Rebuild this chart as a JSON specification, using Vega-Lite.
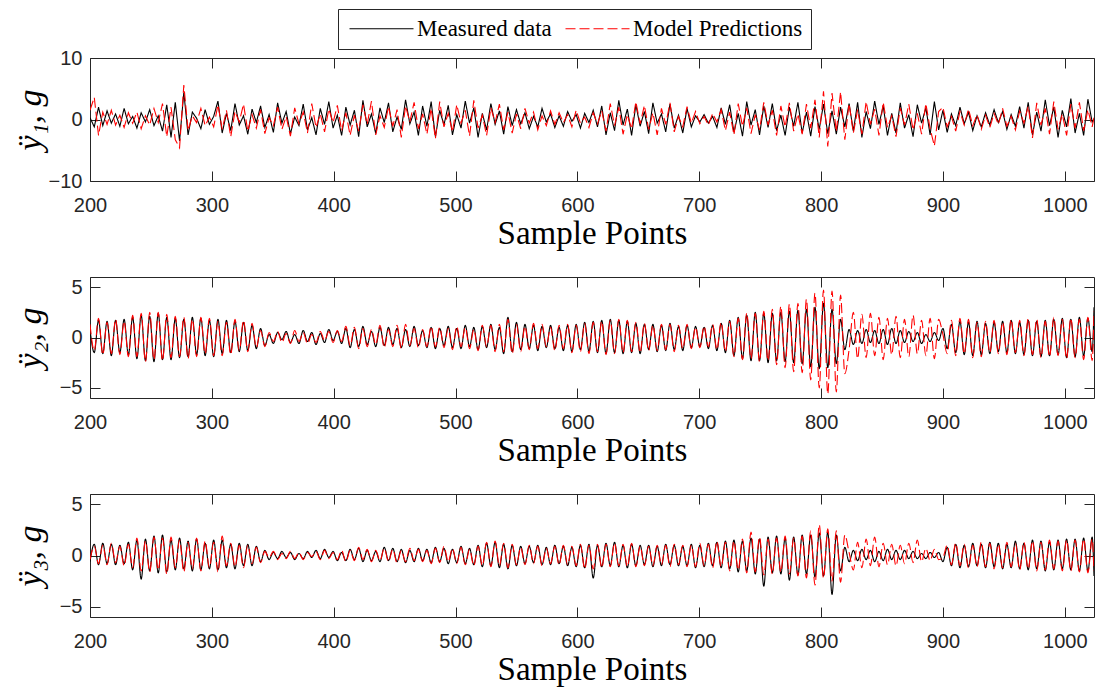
{
"$schema": "https://vega.github.io/schema/vega-lite/v6.json",
"autosize": {"type": "none"},
"padding": {"left": 90, "top": 58, "right": 1005, "bottom": 629},
"background": "#ffffff",
"data": {"values": [
{"x":200,"a":0.3,"b":1.5,"c":0.8,"d":1.3,"e":-0.6,"f":-0.4},
{"x":203.5,"a":-1.2,"b":3.6,"c":-1.5,"d":-1.3,"e":1.1,"f":0.9},
{"x":207,"a":2.0,"b":-2.6,"c":1.7,"d":1.9,"e":-0.9,"f":-0.8},
{"x":210.5,"a":-1.0,"b":1.2,"c":-1.6,"d":-1.7,"e":1.2,"f":1.0},
{"x":214,"a":1.4,"b":-0.8,"c":1.6,"d":1.5,"e":-0.8,"f":-0.9},
{"x":217.5,"a":-0.6,"b":1.5,"c":-1.8,"d":-1.6,"e":1.1,"f":1.2},
{"x":221,"a":0.9,"b":-0.9,"c":1.7,"d":1.8,"e":-0.9,"f":-0.7},
{"x":224.5,"a":-1.1,"b":0.7,"c":-1.5,"d":-1.7,"e":1.0,"f":0.9},
{"x":228,"a":1.8,"b":-1.3,"c":1.8,"d":1.6,"e":-0.8,"f":-1.0},
{"x":231.5,"a":-0.7,"b":1.1,"c":-1.7,"d":-1.9,"e":1.3,"f":1.1},
{"x":235,"a":0.5,"b":-0.6,"c":2.0,"d":2.2,"e":-1.4,"f":-1.2},
{"x":238.5,"a":-1.4,"b":1.2,"c":-2.1,"d":-1.9,"e":1.5,"f":1.7},
{"x":242,"a":1.1,"b":-1.5,"c":2.2,"d":2.4,"e":-2.3,"f":-1.5},
{"x":245.5,"a":-0.4,"b":0.6,"c":-2.3,"d":-2.4,"e":1.6,"f":1.4},
{"x":249,"a":1.6,"b":-0.9,"c":2.1,"d":2.5,"e":-1.5,"f":-1.6},
{"x":252.5,"a":-1.0,"b":1.8,"c":-2.4,"d":-2.2,"e":1.9,"f":1.8},
{"x":256,"a":0.6,"b":-0.5,"c":2.4,"d":2.5,"e":-1.7,"f":-1.4},
{"x":259.5,"a":-1.9,"b":2.6,"c":-2.2,"d":-2.3,"e":2.0,"f":1.7},
{"x":263,"a":2.4,"b":-2.8,"c":2.0,"d":2.3,"e":-1.6,"f":-1.8},
{"x":266.5,"a":-2.9,"b":2.0,"c":-2.2,"d":-2.0,"e":1.5,"f":1.8},
{"x":270,"a":2.8,"b":-3.3,"c":1.9,"d":2.1,"e":-1.4,"f":-1.2},
{"x":273.5,"a":-3.5,"b":-4.6,"c":-2.0,"d":-1.9,"e":1.7,"f":1.5},
{"x":277,"a":4.4,"b":5.6,"c":1.8,"d":2.0,"e":-1.3,"f":-1.6},
{"x":280.5,"a":-2.5,"b":-1.8,"c":-1.9,"d":-2.1,"e":1.4,"f":1.3},
{"x":284,"a":1.2,"b":0.6,"c":2.0,"d":1.8,"e":-1.5,"f":-1.3},
{"x":287.5,"a":0.2,"b":-0.5,"c":-1.7,"d":-1.9,"e":1.6,"f":1.7},
{"x":291,"a":-1.5,"b":1.8,"c":1.9,"d":2.0,"e":-1.4,"f":-1.5},
{"x":294.5,"a":1.6,"b":-1.0,"c":-1.8,"d":-1.6,"e":1.2,"f":1.4},
{"x":298,"a":-0.8,"b":0.4,"c":1.7,"d":1.9,"e":-1.3,"f":-1.2},
{"x":301.5,"a":0.5,"b":-1.2,"c":-1.9,"d":-1.8,"e":1.5,"f":1.3},
{"x":305,"a":3.0,"b":2.4,"c":1.8,"d":1.6,"e":-1.4,"f":-1.6},
{"x":308.5,"a":-2.2,"b":-1.6,"c":-1.6,"d":-1.8,"e":1.5,"f":1.9},
{"x":312,"a":1.0,"b":1.5,"c":1.7,"d":1.5,"e":-1.2,"f":-1.0},
{"x":315.5,"a":-1.8,"b":-2.8,"c":-1.5,"d":-1.7,"e":1.1,"f":1.2},
{"x":319,"a":2.6,"b":1.3,"c":1.6,"d":1.8,"e":-1.3,"f":-1.1},
{"x":322.5,"a":-0.9,"b":-0.4,"c":-1.4,"d":-1.3,"e":1.2,"f":1.0},
{"x":326,"a":0.6,"b":2.5,"c":1.5,"d":1.7,"e":-1.0,"f":-1.2},
{"x":329.5,"a":-2.4,"b":-1.9,"c":-1.3,"d":-1.4,"e":1.1,"f":1.0},
{"x":333,"a":1.7,"b":0.8,"c":1.2,"d":1.4,"e":-1.0,"f":-0.8},
{"x":336.5,"a":-0.5,"b":-1.4,"c":-1.1,"d":-1.0,"e":0.9,"f":0.8},
{"x":340,"a":2.2,"b":1.6,"c":0.9,"d":0.7,"e":-0.6,"f":-0.7},
{"x":343.5,"a":-1.3,"b":-2.3,"c":-0.8,"d":-0.9,"e":0.5,"f":0.4},
{"x":347,"a":0.8,"b":0.3,"c":0.3,"d":0.5,"e":-0.4,"f":-0.2},
{"x":350.5,"a":-2.1,"b":-1.0,"c":-0.6,"d":-0.4,"e":0.3,"f":0.4},
{"x":354,"a":2.7,"b":2.0,"c":0.5,"d":0.6,"e":-0.3,"f":-0.4},
{"x":357.5,"a":-0.6,"b":-1.6,"c":-0.2,"d":-0.5,"e":0.4,"f":0.2},
{"x":361,"a":1.3,"b":0.5,"c":0.6,"d":0.4,"e":-0.2,"f":-0.3},
{"x":364.5,"a":-2.3,"b":-2.7,"c":-0.5,"d":-0.6,"e":0.3,"f":0.4},
{"x":368,"a":0.4,"b":1.9,"c":0.3,"d":0.7,"e":-0.4,"f":-0.3},
{"x":371.5,"a":-1.0,"b":-0.7,"c":-0.6,"d":-0.4,"e":0.2,"f":0.3},
{"x":375,"a":2.5,"b":1.2,"c":0.7,"d":0.5,"e":-0.3,"f":-0.4},
{"x":378.5,"a":-1.7,"b":-2.2,"c":-0.4,"d":-0.6,"e":0.4,"f":0.3},
{"x":382,"a":0.3,"b":2.6,"c":0.5,"d":0.3,"e":-0.2,"f":-0.1},
{"x":385.5,"a":-2.5,"b":-1.3,"c":-0.7,"d":-0.5,"e":0.5,"f":0.4},
{"x":389,"a":1.8,"b":0.9,"c":0.4,"d":0.6,"e":-0.3,"f":-0.4},
{"x":392.5,"a":-0.8,"b":-2.0,"c":-0.5,"d":-0.3,"e":0.6,"f":0.5},
{"x":396,"a":2.9,"b":1.7,"c":0.8,"d":0.6,"e":-0.2,"f":-0.3},
{"x":399.5,"a":-1.4,"b":-0.5,"c":-0.3,"d":-0.5,"e":0.4,"f":0.3},
{"x":403,"a":0.7,"b":2.3,"c":0.6,"d":0.7,"e":-0.5,"f":-0.4},
{"x":406.5,"a":-2.6,"b":-1.8,"c":-0.6,"d":-0.4,"e":0.3,"f":0.5},
{"x":410,"a":2.0,"b":1.1,"c":0.9,"d":1.1,"e":-0.5,"f":-0.6},
{"x":413.5,"a":-0.9,"b":-2.6,"c":-1.0,"d":-0.8,"e":0.6,"f":0.5},
{"x":417,"a":1.5,"b":0.7,"c":0.8,"d":1.0,"e":-0.4,"f":-0.5},
{"x":420.5,"a":-2.8,"b":-1.9,"c":-0.9,"d":-1.1,"e":0.7,"f":0.8},
{"x":424,"a":3.1,"b":2.4,"c":1.1,"d":0.9,"e":-0.6,"f":-0.4},
{"x":427.5,"a":-1.2,"b":-0.8,"c":-0.7,"d":-0.9,"e":0.5,"f":0.6},
{"x":431,"a":0.9,"b":3.0,"c":0.6,"d":0.8,"e":-0.5,"f":-0.6},
{"x":434.5,"a":-2.3,"b":-2.5,"c":-0.9,"d":-0.7,"e":0.4,"f":0.5},
{"x":438,"a":1.9,"b":0.6,"c":1.0,"d":1.2,"e":-0.6,"f":-0.5},
{"x":441.5,"a":-0.5,"b":-1.3,"c":-0.8,"d":-1.0,"e":0.8,"f":0.7},
{"x":445,"a":2.7,"b":2.1,"c":1.0,"d":0.8,"e":-0.5,"f":-0.6},
{"x":448.5,"a":-2.0,"b":-1.1,"c":-0.7,"d":-0.9,"e":0.7,"f":0.6},
{"x":452,"a":0.4,"b":1.6,"c":0.9,"d":1.2,"e":-0.6,"f":-0.7},
{"x":455.5,"a":-1.6,"b":-2.9,"c":-1.0,"d":-1.1,"e":0.6,"f":0.5},
{"x":459,"a":3.2,"b":2.2,"c":0.8,"d":1.3,"e":-0.7,"f":-0.6},
{"x":462.5,"a":-0.7,"b":-0.4,"c":-0.9,"d":-0.8,"e":0.5,"f":0.7},
{"x":466,"a":1.2,"b":2.8,"c":1.1,"d":0.9,"e":-0.6,"f":-0.5},
{"x":469.5,"a":-2.6,"b":-1.5,"c":-0.8,"d":-1.0,"e":0.7,"f":0.6},
{"x":473,"a":2.2,"b":0.9,"c":0.7,"d":0.8,"e":-0.5,"f":-0.6},
{"x":476.5,"a":-1.1,"b":-2.4,"c":-1.0,"d":-0.9,"e":0.6,"f":0.5},
{"x":480,"a":2.9,"b":1.8,"c":1.0,"d":1.1,"e":-0.7,"f":-0.8},
{"x":483.5,"a":-2.8,"b":-3.1,"c":-1.1,"d":-0.9,"e":0.8,"f":0.7},
{"x":487,"a":1.5,"b":2.9,"c":0.9,"d":1.0,"e":-0.6,"f":-0.7},
{"x":490.5,"a":-0.9,"b":-1.2,"c":-0.8,"d":-1.0,"e":0.7,"f":0.9},
{"x":494,"a":2.3,"b":1.0,"c":1.1,"d":0.9,"e":-0.8,"f":-0.6},
{"x":497.5,"a":-2.5,"b":-2.0,"c":-1.0,"d":-1.2,"e":0.6,"f":0.7},
{"x":501,"a":0.8,"b":2.4,"c":0.9,"d":1.1,"e":-0.7,"f":-0.8},
{"x":504.5,"a":-1.4,"b":-0.6,"c":-1.1,"d":-0.9,"e":0.9,"f":0.8},
{"x":508,"a":3.0,"b":1.5,"c":1.2,"d":1.0,"e":-0.8,"f":-0.9},
{"x":511.5,"a":-0.6,"b":-2.7,"c":-0.9,"d":-1.1,"e":0.7,"f":0.6},
{"x":515,"a":1.9,"b":3.1,"c":1.0,"d":0.8,"e":-0.9,"f":-1.0},
{"x":518.5,"a":-2.9,"b":-1.4,"c":-1.2,"d":-1.3,"e":1.0,"f":0.9},
{"x":522,"a":1.0,"b":0.7,"c":1.1,"d":1.2,"e":-1.1,"f":-1.0},
{"x":525.5,"a":-1.7,"b":-2.6,"c":-1.0,"d":-0.9,"e":1.2,"f":1.3},
{"x":529,"a":2.6,"b":1.9,"c":1.3,"d":1.2,"e":-1.0,"f":-1.1},
{"x":532.5,"a":-0.8,"b":-0.5,"c":-1.2,"d":-1.4,"e":1.3,"f":1.4},
{"x":536,"a":1.4,"b":2.5,"c":1.0,"d":1.3,"e":-1.2,"f":-1.0},
{"x":539.5,"a":-2.4,"b":-1.7,"c":-1.6,"d":-1.4,"e":1.1,"f":1.2},
{"x":543,"a":2.1,"b":1.2,"c":2.0,"d":1.8,"e":-1.3,"f":-1.2},
{"x":546.5,"a":-1.0,"b":-2.2,"c":-1.4,"d":-1.6,"e":1.0,"f":1.1},
{"x":550,"a":1.6,"b":0.9,"c":1.5,"d":1.3,"e":-1.0,"f":-0.9},
{"x":553.5,"a":-0.7,"b":-1.5,"c":-1.2,"d":-1.4,"e":0.9,"f":0.8},
{"x":557,"a":1.1,"b":1.8,"c":1.3,"d":1.1,"e":-0.8,"f":-0.9},
{"x":560.5,"a":-1.5,"b":-0.6,"c":-1.1,"d":-1.2,"e":0.9,"f":1.0},
{"x":564,"a":0.5,"b":1.2,"c":1.2,"d":1.4,"e":-0.7,"f":-0.8},
{"x":567.5,"a":-1.2,"b":-1.7,"c":-1.3,"d":-1.1,"e":1.0,"f":0.9},
{"x":571,"a":1.8,"b":0.6,"c":1.1,"d":1.3,"e":-0.9,"f":-1.0},
{"x":574.5,"a":-0.4,"b":-1.0,"c":-1.0,"d":-0.9,"e":0.8,"f":0.7},
{"x":578,"a":0.9,"b":1.4,"c":1.2,"d":1.0,"e":-0.9,"f":-0.8},
{"x":581.5,"a":-1.3,"b":-0.8,"c":-1.1,"d":-1.3,"e":1.0,"f":0.9},
{"x":585,"a":0.6,"b":1.1,"c":1.0,"d":1.2,"e":-0.8,"f":-0.9},
{"x":588.5,"a":-1.1,"b":-0.5,"c":-1.3,"d":-1.1,"e":0.9,"f":1.0},
{"x":592,"a":1.3,"b":0.8,"c":1.2,"d":1.3,"e":-1.0,"f":-0.9},
{"x":595.5,"a":-0.3,"b":-1.2,"c":-1.4,"d":-1.5,"e":0.8,"f":0.9},
{"x":599,"a":0.8,"b":1.5,"c":1.3,"d":1.2,"e":-1.1,"f":-1.0},
{"x":602.5,"a":-1.4,"b":-0.6,"c":-1.2,"d":-1.4,"e":1.0,"f":1.1},
{"x":606,"a":1.0,"b":0.4,"c":1.5,"d":1.4,"e":-1.2,"f":-1.3},
{"x":609.5,"a":-0.5,"b":-1.3,"c":-1.4,"d":-1.6,"e":1.1,"f":1.0},
{"x":613,"a":1.5,"b":1.1,"c":1.6,"d":1.5,"e":-2.2,"f":-1.3},
{"x":616.5,"a":-1.2,"b":-0.7,"c":-1.5,"d":-1.4,"e":1.0,"f":1.1},
{"x":620,"a":2.2,"b":1.4,"c":1.7,"d":1.6,"e":-1.1,"f":-1.2},
{"x":623.5,"a":-2.5,"b":-1.9,"c":-1.6,"d":-1.7,"e":1.2,"f":1.1},
{"x":627,"a":1.1,"b":2.6,"c":1.8,"d":1.7,"e":-1.0,"f":-1.1},
{"x":630.5,"a":-1.8,"b":-1.0,"c":-1.5,"d":-1.6,"e":1.3,"f":1.2},
{"x":634,"a":3.1,"b":2.0,"c":1.7,"d":1.8,"e":-1.1,"f":-1.0},
{"x":637.5,"a":-0.9,"b":-2.4,"c":-1.6,"d":-1.5,"e":1.0,"f":1.1},
{"x":641,"a":1.7,"b":0.8,"c":1.6,"d":1.7,"e":-1.2,"f":-1.1},
{"x":644.5,"a":-2.6,"b":-1.5,"c":-1.5,"d":-1.4,"e":1.1,"f":1.2},
{"x":648,"a":2.4,"b":2.9,"c":1.4,"d":1.5,"e":-1.0,"f":-1.1},
{"x":651.5,"a":-1.1,"b":-0.7,"c":-1.6,"d":-1.5,"e":1.0,"f":0.9},
{"x":655,"a":1.3,"b":2.3,"c":1.3,"d":1.4,"e":-0.9,"f":-1.0},
{"x":658.5,"a":-2.3,"b":-1.6,"c":-1.2,"d":-1.3,"e":1.0,"f":0.9},
{"x":662,"a":2.7,"b":1.1,"c":1.3,"d":1.2,"e":-1.1,"f":-1.0},
{"x":665.5,"a":-0.6,"b":-2.5,"c":-1.4,"d":-1.3,"e":0.9,"f":1.0},
{"x":669,"a":0.9,"b":1.8,"c":1.2,"d":1.3,"e":-1.0,"f":-0.9},
{"x":672.5,"a":-2.0,"b":-0.8,"c":-1.3,"d":-1.2,"e":1.1,"f":1.0},
{"x":676,"a":2.5,"b":2.7,"c":1.4,"d":1.3,"e":-0.9,"f":-1.1},
{"x":679.5,"a":-1.4,"b":-2.0,"c":-1.2,"d":-1.4,"e":1.0,"f":1.1},
{"x":683,"a":0.7,"b":0.5,"c":1.1,"d":1.2,"e":-1.0,"f":-0.9},
{"x":686.5,"a":-2.2,"b":-1.2,"c":-1.3,"d":-1.1,"e":0.9,"f":1.0},
{"x":690,"a":1.8,"b":2.1,"c":1.2,"d":1.3,"e":-1.0,"f":-1.1},
{"x":693.5,"a":-1.2,"b":-0.6,"c":-1.0,"d":-1.1,"e":1.1,"f":1.0},
{"x":697,"a":0.6,"b":1.3,"c":1.1,"d":1.0,"e":-1.2,"f":-1.1},
{"x":700.5,"a":-0.4,"b":-0.7,"c":-0.9,"d":-1.0,"e":1.0,"f":1.2},
{"x":704,"a":0.8,"b":0.5,"c":1.0,"d":1.1,"e":-1.1,"f":-1.0},
{"x":707.5,"a":-0.6,"b":-0.9,"c":-1.1,"d":-0.9,"e":1.2,"f":1.1},
{"x":711,"a":0.5,"b":1.0,"c":1.2,"d":1.3,"e":-1.0,"f":-1.2},
{"x":714.5,"a":-1.3,"b":-0.4,"c":-1.3,"d":-1.2,"e":1.3,"f":1.4},
{"x":718,"a":1.9,"b":1.6,"c":1.4,"d":1.5,"e":-1.2,"f":-1.1},
{"x":721.5,"a":-0.8,"b":-1.8,"c":-1.5,"d":-1.4,"e":1.4,"f":1.3},
{"x":725,"a":2.4,"b":1.2,"c":1.7,"d":1.6,"e":-1.3,"f":-1.5},
{"x":728.5,"a":-2.1,"b":-2.5,"c":-1.8,"d":-1.9,"e":1.5,"f":1.4},
{"x":732,"a":1.0,"b":2.6,"c":2.0,"d":1.9,"e":-1.6,"f":-1.4},
{"x":735.5,"a":-2.7,"b":-1.1,"c":-2.1,"d":-2.2,"e":1.4,"f":1.6},
{"x":739,"a":2.9,"b":1.9,"c":2.2,"d":2.4,"e":-1.5,"f":-1.7},
{"x":742.5,"a":-0.9,"b":-2.3,"c":-2.3,"d":-2.1,"e":1.7,"f":2.3},
{"x":746,"a":1.6,"b":0.8,"c":2.5,"d":2.4,"e":-1.8,"f":-1.6},
{"x":749.5,"a":-2.5,"b":-1.7,"c":-2.3,"d":-2.4,"e":1.6,"f":1.8},
{"x":753,"a":2.2,"b":2.8,"c":2.4,"d":2.6,"e":-3.0,"f":-1.9},
{"x":756.5,"a":-1.3,"b":-0.9,"c":-2.5,"d":-2.3,"e":1.8,"f":1.6},
{"x":760,"a":2.6,"b":1.5,"c":2.4,"d":2.8,"e":-1.7,"f":-1.8},
{"x":763.5,"a":-1.8,"b":-2.6,"c":-2.3,"d":-2.7,"e":1.9,"f":1.7},
{"x":767,"a":0.7,"b":2.2,"c":2.5,"d":3.1,"e":-1.8,"f":-1.6},
{"x":770.5,"a":-2.6,"b":-1.2,"c":-2.4,"d":-3.0,"e":1.7,"f":1.9},
{"x":774,"a":2.0,"b":2.7,"c":2.6,"d":3.3,"e":-2.4,"f":-1.8},
{"x":777.5,"a":-1.1,"b":-1.9,"c":-2.5,"d":-3.4,"e":1.8,"f":1.7},
{"x":781,"a":2.8,"b":0.9,"c":2.7,"d":3.4,"e":-1.9,"f":-2.0},
{"x":784.5,"a":-2.2,"b":-2.4,"c":-2.6,"d":-3.5,"e":2.0,"f":1.9},
{"x":788,"a":1.2,"b":2.5,"c":2.8,"d":3.8,"e":-1.8,"f":-2.2},
{"x":791.5,"a":-2.7,"b":-1.4,"c":-2.9,"d":-4.2,"e":2.0,"f":2.4},
{"x":795,"a":2.1,"b":3.2,"c":3.0,"d":4.4,"e":-2.1,"f":-2.9},
{"x":798.5,"a":-1.6,"b":-2.9,"c":-3.1,"d":-5.0,"e":2.2,"f":3.0},
{"x":802,"a":2.5,"b":4.6,"c":3.4,"d":4.7,"e":-2.0,"f":-2.2},
{"x":805.5,"a":-2.3,"b":-4.4,"c":-3.0,"d":-5.6,"e":2.3,"f":2.6},
{"x":809,"a":1.4,"b":4.3,"c":2.8,"d":4.6,"e":-3.8,"f":-2.5},
{"x":812.5,"a":-2.4,"b":-2.0,"c":-2.6,"d":-5.4,"e":2.0,"f":2.4},
{"x":816,"a":2.0,"b":4.5,"c":1.8,"d":4.2,"e":-1.5,"f":-2.6},
{"x":819.5,"a":-1.2,"b":-3.3,"c":-1.2,"d":-3.6,"e":0.8,"f":2.0},
{"x":823,"a":2.6,"b":2.6,"c":0.8,"d":-1.2,"e":-0.6,"f":0.3},
{"x":826.5,"a":-1.9,"b":-2.2,"c":-0.7,"d":2.5,"e":0.5,"f":-1.4},
{"x":830,"a":2.8,"b":1.6,"c":0.7,"d":-2.1,"e":-0.5,"f":1.3},
{"x":833.5,"a":-2.9,"b":-2.4,"c":-0.6,"d":2.3,"e":0.6,"f":-1.2},
{"x":837,"a":1.3,"b":2.9,"c":0.8,"d":-2.0,"e":-0.4,"f":1.6},
{"x":840.5,"a":-1.5,"b":-0.8,"c":-0.5,"d":2.4,"e":0.5,"f":-1.0},
{"x":844,"a":3.0,"b":1.7,"c":0.7,"d":-1.8,"e":-0.6,"f":1.8},
{"x":847.5,"a":-0.8,"b":-2.6,"c":-0.6,"d":2.0,"e":0.4,"f":-1.1},
{"x":851,"a":2.2,"b":2.8,"c":0.8,"d":-2.2,"e":-0.5,"f":1.2},
{"x":854.5,"a":-2.6,"b":-1.3,"c":-0.7,"d":1.9,"e":0.6,"f":-0.9},
{"x":858,"a":1.0,"b":0.6,"c":0.9,"d":-1.7,"e":-0.4,"f":1.1},
{"x":861.5,"a":-2.2,"b":-2.8,"c":-0.6,"d":2.1,"e":0.5,"f":-1.0},
{"x":865,"a":2.7,"b":1.9,"c":0.7,"d":-2.0,"e":-0.4,"f":1.0},
{"x":868.5,"a":-1.4,"b":-0.9,"c":-0.5,"d":1.8,"e":0.5,"f":-0.8},
{"x":872,"a":0.8,"b":2.5,"c":0.6,"d":-1.9,"e":-0.3,"f":1.2},
{"x":875.5,"a":-2.8,"b":-1.7,"c":-0.4,"d":2.2,"e":0.4,"f":-0.7},
{"x":879,"a":2.4,"b":1.0,"c":0.5,"d":-1.6,"e":-0.3,"f":1.5},
{"x":882.5,"a":-0.6,"b":-2.4,"c":-0.6,"d":1.7,"e":0.2,"f":-0.6},
{"x":886,"a":1.9,"b":2.6,"c":0.3,"d":-1.8,"e":-0.3,"f":0.7},
{"x":889.5,"a":-2.5,"b":-1.5,"c":-0.4,"d":1.9,"e":0.3,"f":-0.5},
{"x":893,"a":2.9,"b":-4.3,"c":0.5,"d":-2.1,"e":-0.2,"f":0.6},
{"x":896.5,"a":-1.7,"b":1.3,"c":-0.3,"d":1.8,"e":0.3,"f":-0.4},
{"x":900,"a":1.5,"b":2.0,"c":0.9,"d":0.3,"e":-0.6,"f":-0.2},
{"x":903.5,"a":-2.1,"b":-1.2,"c":-1.1,"d":-1.6,"e":0.8,"f":1.0},
{"x":907,"a":0.9,"b":0.5,"c":1.3,"d":1.7,"e":-1.0,"f":-0.9},
{"x":910.5,"a":-1.0,"b":-1.9,"c":-1.5,"d":-1.8,"e":1.1,"f":1.2},
{"x":914,"a":2.0,"b":1.3,"c":1.6,"d":1.9,"e":-1.2,"f":-1.0},
{"x":917.5,"a":-0.7,"b":-0.9,"c":-1.7,"d":-1.6,"e":1.0,"f":1.1},
{"x":921,"a":1.2,"b":1.7,"c":1.5,"d":1.8,"e":-1.1,"f":-1.2},
{"x":924.5,"a":-1.8,"b":-1.0,"c":-1.8,"d":-2.0,"e":1.2,"f":1.0},
{"x":928,"a":0.6,"b":0.8,"c":1.6,"d":1.5,"e":-1.0,"f":-1.1},
{"x":931.5,"a":-1.2,"b":-1.6,"c":-1.7,"d":-1.9,"e":1.1,"f":1.3},
{"x":935,"a":1.1,"b":0.7,"c":1.4,"d":1.6,"e":-1.2,"f":-1.1},
{"x":938.5,"a":-0.9,"b":-1.3,"c":-1.6,"d":-1.5,"e":1.3,"f":1.2},
{"x":942,"a":1.6,"b":1.0,"c":1.5,"d":1.7,"e":-1.1,"f":-1.3},
{"x":945.5,"a":-0.5,"b":-0.8,"c":-1.4,"d":-1.6,"e":1.2,"f":1.1},
{"x":949,"a":1.3,"b":1.8,"c":1.6,"d":1.5,"e":-1.3,"f":-1.2},
{"x":952.5,"a":-1.6,"b":-1.1,"c":-1.5,"d":-1.7,"e":1.1,"f":1.3},
{"x":956,"a":0.8,"b":0.5,"c":1.7,"d":1.8,"e":-1.2,"f":-1.1},
{"x":959.5,"a":-1.1,"b":-1.7,"c":-1.6,"d":-1.5,"e":1.4,"f":1.2},
{"x":963,"a":2.1,"b":1.4,"c":1.5,"d":1.7,"e":-1.3,"f":-1.4},
{"x":966.5,"a":-1.4,"b":-0.6,"c":-1.7,"d":-1.8,"e":1.2,"f":1.3},
{"x":970,"a":2.8,"b":2.2,"c":1.7,"d":1.9,"e":-1.4,"f":-1.3},
{"x":973.5,"a":-2.5,"b":-3.0,"c":-1.8,"d":-1.7,"e":1.5,"f":1.4},
{"x":977,"a":1.2,"b":2.7,"c":1.6,"d":1.8,"e":-1.3,"f":-1.5},
{"x":980.5,"a":-1.9,"b":-0.9,"c":-1.9,"d":-2.0,"e":1.4,"f":1.3},
{"x":984,"a":3.2,"b":1.8,"c":1.7,"d":1.6,"e":-1.5,"f":-1.4},
{"x":987.5,"a":-1.0,"b":-2.4,"c":-1.8,"d":-1.9,"e":1.3,"f":1.5},
{"x":991,"a":2.0,"b":2.9,"c":1.8,"d":2.0,"e":-1.4,"f":-1.3},
{"x":994.5,"a":-2.9,"b":-1.6,"c":-1.7,"d":-1.8,"e":1.5,"f":1.4},
{"x":998,"a":1.5,"b":0.9,"c":1.9,"d":1.8,"e":-1.3,"f":-1.5},
{"x":1001.5,"a":-1.2,"b":-2.6,"c":-2.0,"d":-2.1,"e":1.6,"f":1.5},
{"x":1005,"a":3.4,"b":2.5,"c":1.8,"d":1.9,"e":-1.4,"f":-1.5},
{"x":1008.5,"a":-2.2,"b":-1.4,"c":-1.9,"d":-2.0,"e":1.6,"f":1.5},
{"x":1012,"a":1.0,"b":2.8,"c":2.0,"d":1.8,"e":-1.5,"f":-1.6},
{"x":1015.5,"a":-2.6,"b":-1.8,"c":-1.8,"d":-2.2,"e":1.7,"f":1.6},
{"x":1019,"a":3.3,"b":1.6,"c":1.9,"d":2.0,"e":-1.5,"f":-1.7},
{"x":1022.5,"a":-0.4,"b":-1.2,"c":-1.4,"d":-2.3,"e":1.8,"f":1.6},
{"x":1024,"a":0.1,"b":0.3,"c":3.0,"d":2.6,"e":-2.0,"f":-1.5}
]},
"config": {
  "view": {"stroke": "#262626", "strokeWidth": 1},
  "axis": {"domain": false, "grid": false, "ticks": true, "tickColor": "#262626", "tickWidth": 1, "tickSize": -10, "labelFont": "Liberation Sans", "labelFontSize": 20, "labelColor": "#262626", "labelFlush": false, "titleFont": "Liberation Serif", "titleColor": "#000000", "titleFontWeight": "normal"},
  "axisBottom": {"labelPadding": 24, "titleFontSize": 33, "titleBaseline": "alphabetic", "titleY": 62, "titleX": 502, "titleAlign": "center", "format": "d"},
  "axisLeft": {"labelPadding": 18, "titleFontSize": 34, "titleFontStyle": "italic", "titleX": -60, "titleBaseline": "middle", "titleAngle": -90, "titleAlign": "center"},
  "legend": {"symbolType": "M-4,0H4", "symbolSize": 256, "symbolStrokeWidth": 1.2, "symbolOffset": 24, "labelFont": "Liberation Serif", "labelFontSize": 23, "labelColor": "#000000", "labelOffset": 24, "labelLimit": 0, "columnPadding": 10, "padding": 8, "strokeColor": "#262626", "fillColor": "#ffffff", "cornerRadius": 0}
},
"spacing": 96,
"bounds": "flush",
"resolve": {"scale": {"color": "shared", "strokeDash": "shared", "x": "independent", "y": "independent"}},
"vconcat": [
 {
  "width": 1004, "height": 123,
  "layer": [
   {"mark": {"type": "line", "interpolate": "linear", "strokeWidth": 1.1, "clip": true},
    "encoding": {
     "x": {"field": "x", "type": "quantitative", "scale": {"domain": [200, 1024], "nice": false, "zero": false}, "axis": {"orient": "bottom", "values": [200,300,400,500,600,700,800,900,1000], "title": "Sample Points"}},
     "y": {"field": "a", "type": "quantitative", "scale": {"domain": [-10, 10], "nice": false}, "axis": {"orient": "left", "values": [-10,0,10], "title": "ÿ₁, g", "titleY": 61.5}},
     "color": {"datum": "Measured data", "type": "nominal", "scale": {"domain": ["Measured data", "Model Predictions"], "range": ["#000000", "#ff0000"]}, "legend": {"title": null, "orient": "none", "legendX": 248, "legendY": -49, "direction": "horizontal"}},
     "strokeDash": {"datum": "Measured data", "type": "nominal", "scale": {"domain": ["Measured data", "Model Predictions"], "range": [[1,0],[10,4]]}, "legend": {"title": null, "orient": "none", "legendX": 248, "legendY": -49, "direction": "horizontal"}}
    }},
   {"mark": {"type": "line", "interpolate": "linear", "strokeWidth": 1.1, "clip": true},
    "encoding": {
     "x": {"field": "x", "type": "quantitative", "scale": {"domain": [200, 1024], "nice": false, "zero": false}, "axis": {"orient": "top", "values": [200,300,400,500,600,700,800,900,1000], "labels": false, "title": null}},
     "y": {"field": "b", "type": "quantitative", "scale": {"domain": [-10, 10], "nice": false}, "axis": {"orient": "right", "values": [-10,0,10], "labels": false, "title": null}},
     "color": {"datum": "Model Predictions", "type": "nominal"},
     "strokeDash": {"datum": "Model Predictions", "type": "nominal"}
    }}
  ],
  "resolve": {"axis": {"x": "independent", "y": "independent"}}
 },
 {
  "width": 1004, "height": 121,
  "layer": [
   {"mark": {"type": "line", "interpolate": "monotone", "strokeWidth": 1.1, "clip": true},
    "encoding": {
     "x": {"field": "x", "type": "quantitative", "scale": {"domain": [200, 1024], "nice": false, "zero": false}, "axis": {"orient": "bottom", "values": [200,300,400,500,600,700,800,900,1000], "title": "Sample Points"}},
     "y": {"field": "c", "type": "quantitative", "scale": {"domain": [-6, 6], "nice": false}, "axis": {"orient": "left", "values": [-5,0,5], "title": "ÿ₂, g", "titleY": 60.5}},
     "color": {"datum": "Measured data", "type": "nominal"},
     "strokeDash": {"datum": "Measured data", "type": "nominal"}
    }},
   {"mark": {"type": "line", "interpolate": "monotone", "strokeWidth": 1.1, "clip": true},
    "encoding": {
     "x": {"field": "x", "type": "quantitative", "scale": {"domain": [200, 1024], "nice": false, "zero": false}, "axis": {"orient": "top", "values": [200,300,400,500,600,700,800,900,1000], "labels": false, "title": null}},
     "y": {"field": "d", "type": "quantitative", "scale": {"domain": [-6, 6], "nice": false}, "axis": {"orient": "right", "values": [-5,0,5], "labels": false, "title": null}},
     "color": {"datum": "Model Predictions", "type": "nominal"},
     "strokeDash": {"datum": "Model Predictions", "type": "nominal"}
    }}
  ],
  "resolve": {"axis": {"x": "independent", "y": "independent"}}
 },
 {
  "width": 1004, "height": 123,
  "layer": [
   {"mark": {"type": "line", "interpolate": "monotone", "strokeWidth": 1.1, "clip": true},
    "encoding": {
     "x": {"field": "x", "type": "quantitative", "scale": {"domain": [200, 1024], "nice": false, "zero": false}, "axis": {"orient": "bottom", "values": [200,300,400,500,600,700,800,900,1000], "title": "Sample Points"}},
     "y": {"field": "e", "type": "quantitative", "scale": {"domain": [-6, 6], "nice": false}, "axis": {"orient": "left", "values": [-5,0,5], "title": "ÿ₃, g", "titleY": 61.5}},
     "color": {"datum": "Measured data", "type": "nominal"},
     "strokeDash": {"datum": "Measured data", "type": "nominal"}
    }},
   {"mark": {"type": "line", "interpolate": "monotone", "strokeWidth": 1.1, "clip": true},
    "encoding": {
     "x": {"field": "x", "type": "quantitative", "scale": {"domain": [200, 1024], "nice": false, "zero": false}, "axis": {"orient": "top", "values": [200,300,400,500,600,700,800,900,1000], "labels": false, "title": null}},
     "y": {"field": "f", "type": "quantitative", "scale": {"domain": [-6, 6], "nice": false}, "axis": {"orient": "right", "values": [-5,0,5], "labels": false, "title": null}},
     "color": {"datum": "Model Predictions", "type": "nominal"},
     "strokeDash": {"datum": "Model Predictions", "type": "nominal"}
    }}
  ],
  "resolve": {"axis": {"x": "independent", "y": "independent"}}
 }
]
}
